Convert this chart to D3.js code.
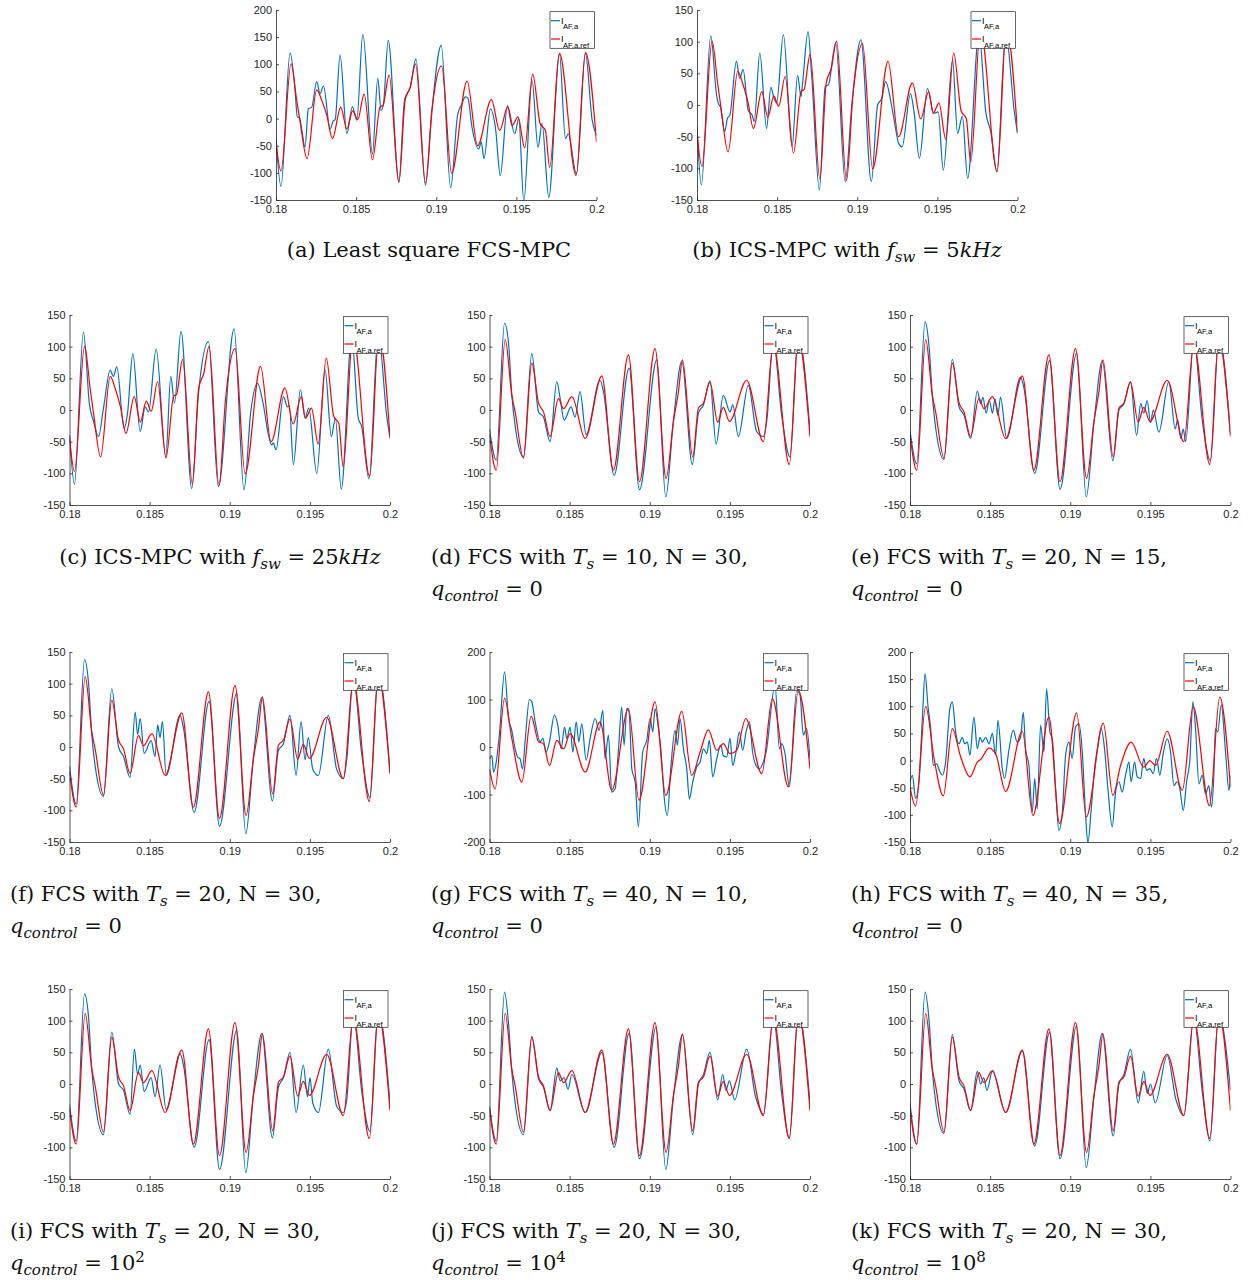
<!DOCTYPE html>
<html><head><meta charset="utf-8">
<script src="https://cdn.jsdelivr.net/npm/d3@7"></script>
<style>body{margin:0;background:#fff} svg{display:block} text{white-space:pre}</style>
</head><body>
<svg id="chart" width="1250" height="1280"></svg>
<script>
// ---------- tick labels ----------
const xTicks = [0.18, 0.185, 0.19, 0.195, 0.2];
const xTickLabels = ["0.18", "0.185", "0.19", "0.195", "0.2"];
const yTicks150 = [-150, -100, -50, 0, 50, 100, 150];
const yTicks200 = [-150, -100, -50, 0, 50, 100, 150, 200];
const yTicksG = [-200, -100, 0, 100, 200];
const legendSubs = ["AF,a", "AF,a,ref"];

// ---------- series: [time (s), current (A)] ----------
const refA = [[0.18,-43],[0.18031,-97],[0.18094,101],[0.18129,34],[0.1815,-5],[0.18194,-74],[0.18254,53],[0.18285,34],[0.18317,6],[0.18352,-37],[0.18404,21],[0.18442,-19],[0.18479,14],[0.1851,-2],[0.1855,45],[0.18602,-76],[0.1865,22],[0.18667,24],[0.18706,80],[0.18767,-117],[0.18806,34],[0.18838,58],[0.18871,101],[0.18933,-119],[0.18973,15],[0.19033,97],[0.19096,-101],[0.19192,69],[0.19258,-50],[0.19344,35],[0.19396,-22],[0.19446,21],[0.19473,-13],[0.1951,3],[0.19552,-54],[0.19602,82],[0.19648,-9],[0.19681,-22],[0.19708,-90],[0.19769,120],[0.19873,-105],[0.19931,122],[0.2,-43]];

const blueA = [[0.18,-35],[0.18031,-125],[0.18088,121],[0.18119,52],[0.18133,3],[0.18146,2],[0.1816,-19],[0.18181,-53],[0.18202,18],[0.18223,21],[0.18254,68],[0.18275,46],[0.18296,60],[0.18338,-19],[0.18358,-4],[0.18369,-2],[0.184,117],[0.18442,-28],[0.18477,22],[0.18504,-3],[0.18542,155],[0.18602,-65],[0.18635,74],[0.18656,15],[0.18671,27],[0.187,144],[0.18767,-117],[0.18802,34],[0.18838,58],[0.18873,110],[0.18933,-123],[0.18973,15],[0.19031,135],[0.1909,-127],[0.19133,6],[0.1916,27],[0.19181,40],[0.19198,37],[0.19223,-16],[0.19265,-56],[0.19281,-43],[0.19298,-74],[0.19338,18],[0.19369,-16],[0.194,-105],[0.19444,24],[0.1949,-28],[0.19515,0],[0.19546,-152],[0.19598,70],[0.19635,-53],[0.1966,-9],[0.19702,-145],[0.19769,119],[0.19806,-37],[0.19823,-28],[0.19875,-102],[0.19931,120],[0.19973,-3],[0.2,-31]];

const blueB = [[0.18,-34],[0.18027,-126],[0.18086,109],[0.18121,18],[0.18132,3],[0.18146,-3],[0.18173,-42],[0.1819,-21],[0.18205,-16],[0.18246,69],[0.18267,42],[0.18288,56],[0.18319,-8],[0.18344,-16],[0.18357,-26],[0.18392,82],[0.18434,-37],[0.18461,28],[0.18478,13],[0.18497,3],[0.18539,111],[0.18593,-66],[0.18628,47],[0.18649,13],[0.18658,32],[0.18693,116],[0.18716,45],[0.18764,-134],[0.188,29],[0.1882,32],[0.18866,98],[0.18925,-121],[0.18967,3],[0.19023,103],[0.19088,-121],[0.19127,0],[0.19154,11],[0.19177,37],[0.19217,-5],[0.19237,-34],[0.19259,-61],[0.1928,-66],[0.19332,18],[0.19353,-8],[0.19388,-84],[0.19438,26],[0.19478,-13],[0.19505,-11],[0.19537,-103],[0.19595,71],[0.19626,-45],[0.19656,-18],[0.19689,-116],[0.1976,113],[0.19802,-11],[0.19833,-42],[0.19871,-105],[0.19927,113],[0.19979,-8],[0.2,-45]];

const blueC = [[0.18,-39],[0.18031,-117],[0.18087,123],[0.18125,8],[0.1815,-18],[0.18181,-42],[0.18212,3],[0.18254,63],[0.18274,53],[0.18295,68],[0.18341,-29],[0.18362,-5],[0.18395,89],[0.18441,-34],[0.18472,5],[0.18493,-3],[0.18541,96],[0.18601,-74],[0.18632,53],[0.18655,11],[0.18696,124],[0.18763,-124],[0.18805,26],[0.18867,108],[0.18929,-121],[0.19027,128],[0.19089,-126],[0.19131,-3],[0.19173,42],[0.1921,8],[0.19241,-39],[0.19262,-55],[0.19272,-52],[0.19289,-63],[0.19335,21],[0.1936,5],[0.19372,7],[0.19397,-86],[0.19441,32],[0.1947,-13],[0.19493,3],[0.19543,-100],[0.19595,63],[0.19634,-42],[0.19659,-13],[0.19696,-125],[0.19761,116],[0.19802,-13],[0.19823,-26],[0.19869,-109],[0.19927,121],[0.19979,-8],[0.2,-45]];

const refD = [[0.18,-39],[0.18042,-95],[0.18098,111],[0.18139,24],[0.1816,-3],[0.18212,-76],[0.18264,74],[0.18306,11],[0.18337,-3],[0.18378,-42],[0.1843,18],[0.18462,2],[0.18514,21],[0.18597,-45],[0.18701,54],[0.18773,-95],[0.18867,87],[0.18936,-113],[0.19033,97],[0.19102,-108],[0.19148,-18],[0.19179,29],[0.19204,79],[0.19268,-74],[0.19304,3],[0.19335,11],[0.19376,44],[0.19424,-19],[0.19459,4],[0.19497,-18],[0.19605,47],[0.19709,-50],[0.19771,105],[0.19871,-86],[0.19927,113],[0.2,-42]];

const blueD = [[0.18,-30],[0.18042,-79],[0.18094,137],[0.18119,105],[0.18139,24],[0.1816,-25],[0.18212,-74],[0.18264,89],[0.18306,-3],[0.18337,-11],[0.18378,-50],[0.1842,45],[0.18441,18],[0.18466,-16],[0.18509,5],[0.18534,-11],[0.18565,29],[0.18603,-39],[0.1869,47],[0.18711,29],[0.18778,-103],[0.18871,66],[0.18936,-126],[0.19044,79],[0.191,-137],[0.19148,-16],[0.192,77],[0.19266,-86],[0.19304,-5],[0.19335,8],[0.19376,46],[0.19414,-54],[0.19459,23],[0.19501,-3],[0.19518,8],[0.19553,-42],[0.19615,39],[0.19667,-34],[0.19709,-42],[0.1973,-18],[0.19771,108],[0.19823,-8],[0.19875,-74],[0.19927,118],[0.2,-32]];

const blueE = [[0.18,-32],[0.18042,-85],[0.18094,139],[0.18119,100],[0.18139,24],[0.1816,-28],[0.18212,-78],[0.18264,80],[0.18306,5],[0.18337,-8],[0.18378,-45],[0.1842,30],[0.18441,10],[0.18455,20],[0.18475,-5],[0.18495,15],[0.18515,-5],[0.1853,18],[0.18548,-8],[0.18565,20],[0.18603,-45],[0.1869,52],[0.18711,35],[0.18778,-100],[0.18871,78],[0.18936,-125],[0.1904,90],[0.191,-137],[0.19148,-20],[0.192,78],[0.19266,-80],[0.19304,0],[0.19335,10],[0.19376,45],[0.19414,-40],[0.1944,10],[0.19459,-5],[0.1948,15],[0.19501,-20],[0.19518,0],[0.19553,-35],[0.19615,45],[0.19655,-30],[0.1967,-15],[0.1969,-45],[0.19705,-30],[0.1972,-50],[0.19771,110],[0.19823,-15],[0.19875,-80],[0.19927,115],[0.2,-38]];

const blueF = [[0.18,-30],[0.18042,-90],[0.18094,138],[0.18119,100],[0.18139,20],[0.1816,-30],[0.18212,-78],[0.18264,92],[0.18306,0],[0.18337,-15],[0.18378,-48],[0.1841,55],[0.18425,20],[0.18441,45],[0.18466,-10],[0.18509,10],[0.18534,-15],[0.1855,35],[0.18565,15],[0.1858,40],[0.18603,-45],[0.1869,50],[0.18711,30],[0.18778,-103],[0.18871,72],[0.18936,-125],[0.19044,85],[0.191,-137],[0.19148,-16],[0.192,78],[0.19266,-85],[0.19304,-5],[0.19335,5],[0.19376,50],[0.19414,-45],[0.19445,40],[0.1947,-20],[0.1949,15],[0.19518,-35],[0.19553,-45],[0.19615,50],[0.19667,-35],[0.19709,-50],[0.1973,-20],[0.19771,110],[0.19823,-10],[0.19875,-80],[0.19927,118],[0.2,-40]];

const blueI = [[0.18,-32],[0.18042,-90],[0.18094,142],[0.18119,105],[0.18139,22],[0.1816,-30],[0.18212,-80],[0.18264,82],[0.18306,0],[0.18337,-10],[0.18378,-48],[0.18405,55],[0.18425,15],[0.18441,30],[0.18466,-12],[0.18509,10],[0.18534,-20],[0.18565,30],[0.18603,-40],[0.1869,48],[0.18711,30],[0.18778,-100],[0.18871,70],[0.18936,-135],[0.19044,85],[0.191,-140],[0.19148,-15],[0.192,80],[0.19266,-85],[0.19304,-5],[0.19335,10],[0.19376,50],[0.19414,-45],[0.19459,30],[0.19485,-20],[0.19501,10],[0.19518,-30],[0.19553,-45],[0.19615,55],[0.19667,-35],[0.19709,-45],[0.1973,-25],[0.19771,110],[0.19823,-10],[0.19875,-75],[0.19927,115],[0.2,-30]];

const blueJ = [[0.18,-35],[0.18042,-90],[0.18094,145],[0.18119,95],[0.18139,20],[0.1816,-30],[0.18212,-80],[0.18264,75],[0.18306,8],[0.18337,-5],[0.18378,-42],[0.1842,25],[0.18441,5],[0.18466,10],[0.1849,-8],[0.18514,15],[0.18597,-45],[0.18701,50],[0.18778,-100],[0.18871,80],[0.18936,-118],[0.1904,90],[0.191,-135],[0.19148,-20],[0.19204,78],[0.19268,-80],[0.19304,0],[0.19335,15],[0.19376,50],[0.19424,-25],[0.19455,15],[0.19475,-10],[0.19497,5],[0.1953,-25],[0.19605,55],[0.1966,-20],[0.1968,-35],[0.19709,-48],[0.19771,105],[0.19823,-15],[0.19871,-85],[0.19927,112],[0.2,-30]];

const blueK = [[0.18,-30],[0.18042,-95],[0.18094,145],[0.18119,100],[0.18139,22],[0.1816,-28],[0.18212,-78],[0.18264,78],[0.18306,5],[0.18337,-8],[0.18378,-42],[0.1842,20],[0.18441,0],[0.1846,10],[0.1848,-10],[0.18514,20],[0.18597,-45],[0.18701,52],[0.18778,-98],[0.18871,82],[0.18936,-118],[0.1904,92],[0.191,-132],[0.19148,-20],[0.192,80],[0.19268,-82],[0.19304,0],[0.19335,15],[0.19376,55],[0.19424,-30],[0.19459,20],[0.1948,-15],[0.19501,0],[0.1953,-30],[0.19605,45],[0.1966,-25],[0.19709,-50],[0.19771,105],[0.19823,-10],[0.19871,-90],[0.19927,110],[0.2,-10]];

const refG = [[0.18,-46],[0.18035,-88],[0.18094,103],[0.18139,18],[0.18202,-74],[0.1826,65],[0.18306,11],[0.18337,7],[0.18374,-39],[0.1842,14],[0.18462,-4],[0.18503,28],[0.18597,-53],[0.1869,53],[0.18763,-91],[0.18867,81],[0.18933,-112],[0.19033,95],[0.191,-102],[0.192,75],[0.19262,-60],[0.19314,-11],[0.19366,36],[0.19418,-7],[0.19459,7],[0.19501,-14],[0.19543,-7],[0.19599,60],[0.19699,-56],[0.19765,102],[0.19865,-84],[0.19927,119],[0.2,-46]];

const blueG = [[0.18,-25],[0.18015,-18],[0.18025,-53],[0.18042,-32],[0.18062,28],[0.18094,158],[0.18119,60],[0.18139,35],[0.1816,-4],[0.18175,-21],[0.18191,-25],[0.18206,-46],[0.18222,11],[0.18249,100],[0.18264,95],[0.18285,53],[0.18316,11],[0.18333,18],[0.18353,-11],[0.18374,11],[0.18405,67],[0.18426,46],[0.18447,-4],[0.18468,42],[0.18482,18],[0.18503,42],[0.1852,-11],[0.18541,53],[0.18557,11],[0.18576,49],[0.18603,-28],[0.18628,18],[0.18659,60],[0.18684,35],[0.18707,77],[0.18721,-25],[0.18742,25],[0.18763,-95],[0.18784,-88],[0.18805,-4],[0.18825,84],[0.1884,4],[0.18857,81],[0.18871,74],[0.18888,-46],[0.18909,-74],[0.18929,-168],[0.18956,-11],[0.18981,14],[0.19002,60],[0.19019,32],[0.19033,81],[0.19054,39],[0.19071,-11],[0.19089,-102],[0.1911,-144],[0.19131,-46],[0.19158,35],[0.19173,4],[0.19189,60],[0.1921,-4],[0.19231,-46],[0.19247,-109],[0.19268,-74],[0.19293,-42],[0.19314,-32],[0.19335,-4],[0.19356,-14],[0.19372,14],[0.19393,-63],[0.19418,-25],[0.19443,4],[0.19459,-18],[0.1948,-21],[0.19501,18],[0.19518,-39],[0.19538,-11],[0.19559,32],[0.1958,-7],[0.19601,32],[0.19622,53],[0.19642,-11],[0.19663,-39],[0.19684,-46],[0.19705,-35],[0.19726,-11],[0.19782,130],[0.19809,-4],[0.19823,7],[0.19844,-14],[0.19871,-84],[0.19917,119],[0.19938,109],[0.19958,25],[0.19979,39],[0.2,-25]];

const refH = [[0.18,-49],[0.18035,-84],[0.18098,100],[0.1815,4],[0.18208,-65],[0.18264,59],[0.18316,7],[0.18374,-30],[0.1842,-3],[0.18441,2],[0.18493,23],[0.18534,13],[0.18597,-57],[0.18701,54],[0.18767,-101],[0.18867,80],[0.18933,-116],[0.1904,88],[0.191,-104],[0.19206,69],[0.19266,-64],[0.19314,-9],[0.1938,34],[0.19459,-12],[0.19497,0],[0.19532,-9],[0.19605,54],[0.19699,-55],[0.19767,99],[0.19869,-83],[0.19933,117],[0.2,-49]];

const blueH = [[0.18,-39],[0.18015,-27],[0.18035,-70],[0.18056,-39],[0.18077,77],[0.18094,160],[0.18112,101],[0.18129,59],[0.18146,-9],[0.18166,-6],[0.18187,-21],[0.18202,-27],[0.18222,-3],[0.18249,96],[0.18264,108],[0.18285,53],[0.18306,31],[0.18326,43],[0.18341,31],[0.18358,34],[0.18374,10],[0.18399,80],[0.1842,22],[0.18437,43],[0.18451,34],[0.18472,43],[0.18493,31],[0.18514,50],[0.18534,10],[0.18549,74],[0.18576,-15],[0.1859,-33],[0.18617,19],[0.18644,56],[0.18669,34],[0.1869,43],[0.18707,89],[0.18721,22],[0.18742,-9],[0.18763,-95],[0.18778,-33],[0.18794,-89],[0.18815,65],[0.18836,16],[0.18852,132],[0.18873,53],[0.18888,40],[0.18909,-52],[0.18929,-129],[0.1895,-98],[0.18971,10],[0.18992,34],[0.19012,4],[0.19033,62],[0.19054,68],[0.19075,16],[0.19096,-101],[0.1911,-152],[0.19131,-89],[0.19152,-15],[0.19173,28],[0.19193,59],[0.19214,22],[0.19235,-52],[0.19262,-122],[0.19283,-58],[0.19304,-39],[0.19324,-58],[0.19345,-27],[0.19366,-3],[0.1938,-39],[0.19401,-3],[0.19418,-30],[0.19439,-33],[0.19459,4],[0.19476,-18],[0.19497,-15],[0.19518,-24],[0.19538,4],[0.19559,-27],[0.1958,13],[0.19605,40],[0.19626,16],[0.19647,-46],[0.19667,-39],[0.19684,-52],[0.19705,-92],[0.19726,-39],[0.19747,4],[0.19765,108],[0.19782,59],[0.19803,-43],[0.19823,-27],[0.19844,-61],[0.19865,-46],[0.19881,-86],[0.19896,-27],[0.19906,59],[0.19921,53],[0.19942,103],[0.19969,16],[0.1999,-55],[0.2,-27]];

// ---------- captions (segments: t text, it italic, sub subscript, sup superscript) ----------
const qZero = [{t:"q",it:1},{t:"control",it:1,sub:1},{t:" = 0"}];
const capA = [[{t:"(a) Least square FCS-MPC"}]];
const capB = [[{t:"(b) ICS-MPC with "},{t:"f",it:1},{t:"sw",it:1,sub:1},{t:" = 5"},{t:"kHz",it:1}]];
const capC = [[{t:"(c) ICS-MPC with "},{t:"f",it:1},{t:"sw",it:1,sub:1},{t:" = 25"},{t:"kHz",it:1}]];
const capD = [[{t:"(d) FCS with "},{t:"T",it:1},{t:"s",it:1,sub:1},{t:" = 10, N = 30,"}], qZero];
const capE = [[{t:"(e) FCS with "},{t:"T",it:1},{t:"s",it:1,sub:1},{t:" = 20, N = 15,"}], qZero];
const capF = [[{t:"(f) FCS with "},{t:"T",it:1},{t:"s",it:1,sub:1},{t:" = 20, N = 30,"}], qZero];
const capG = [[{t:"(g) FCS with "},{t:"T",it:1},{t:"s",it:1,sub:1},{t:" = 40, N = 10,"}], qZero];
const capH = [[{t:"(h) FCS with "},{t:"T",it:1},{t:"s",it:1,sub:1},{t:" = 40, N = 35,"}], qZero];
const capI = [[{t:"(i) FCS with "},{t:"T",it:1},{t:"s",it:1,sub:1},{t:" = 20, N = 30,"}], [{t:"q",it:1},{t:"control",it:1,sub:1},{t:" = 10"},{t:"2",sup:1}]];
const capJ = [[{t:"(j) FCS with "},{t:"T",it:1},{t:"s",it:1,sub:1},{t:" = 20, N = 30,"}], [{t:"q",it:1},{t:"control",it:1,sub:1},{t:" = 10"},{t:"4",sup:1}]];
const capK = [[{t:"(k) FCS with "},{t:"T",it:1},{t:"s",it:1,sub:1},{t:" = 20, N = 30,"}], [{t:"q",it:1},{t:"control",it:1,sub:1},{t:" = 10"},{t:"8",sup:1}]];

// ---------- layout ----------
const PW = 320.5, PH = 190;
const panels = [
  {x:276, y:10, dom:[-150,200], ticks:yTicks200, ref:refA, act:blueA, cap:capA, cx:429, cy:257, anchor:"middle"},
  {x:697, y:10, dom:[-150,150], ticks:yTicks150, ref:refA, act:blueB, cap:capB, cx:847, cy:257, anchor:"middle"},
  {x:69.5, y:315, dom:[-150,150], ticks:yTicks150, ref:refA, act:blueC, cap:capC, cx:220, cy:564, anchor:"middle"},
  {x:489.5, y:315, dom:[-150,150], ticks:yTicks150, ref:refD, act:blueD, cap:capD, cx:431, cy:564, anchor:"start"},
  {x:910, y:315, dom:[-150,150], ticks:yTicks150, ref:refD, act:blueE, cap:capE, cx:851, cy:564, anchor:"start"},
  {x:69.5, y:652, dom:[-150,150], ticks:yTicks150, ref:refD, act:blueF, cap:capF, cx:10, cy:901, anchor:"start"},
  {x:489.5, y:652, dom:[-200,200], ticks:yTicksG, ref:refG, act:blueG, cap:capG, cx:431, cy:901, anchor:"start"},
  {x:910, y:652, dom:[-150,200], ticks:yTicks200, ref:refH, act:blueH, cap:capH, cx:851, cy:901, anchor:"start"},
  {x:69.5, y:989, dom:[-150,150], ticks:yTicks150, ref:refD, act:blueI, cap:capI, cx:10, cy:1238, anchor:"start"},
  {x:489.5, y:989, dom:[-150,150], ticks:yTicks150, ref:refD, act:blueJ, cap:capJ, cx:431, cy:1238, anchor:"start"},
  {x:910, y:989, dom:[-150,150], ticks:yTicks150, ref:refD, act:blueK, cap:capK, cx:851, cy:1238, anchor:"start"}
];

const svg = d3.select("#chart");
const AX = "#262626";

panels.forEach((p, i) => {
  const g = svg.append("g").attr("transform", `translate(${p.x},${p.y})`);
  const x = d3.scaleLinear().domain([0.18, 0.2]).range([0, PW]);
  const y = d3.scaleLinear().domain(p.dom).range([PH, 0]);
  const clipId = "clip" + i;
  g.append("clipPath").attr("id", clipId).append("rect").attr("x", 0).attr("y", 0).attr("width", PW).attr("height", PH);

  const line = d3.line().x(d => x(d[0])).y(d => y(d[1])).curve(d3.curveMonotoneX);
  const lines = g.append("g").attr("clip-path", `url(#${clipId})`);
  lines.append("path").datum(p.act).attr("d", line).attr("fill", "none").attr("stroke", "#0072BD").attr("stroke-width", 1.2).attr("stroke-linejoin", "round");
  lines.append("path").datum(p.ref).attr("d", line).attr("fill", "none").attr("stroke", "#FF0000").attr("stroke-width", 1.2).attr("stroke-linejoin", "round");

  const xa = g.append("g").attr("transform", `translate(0,${PH})`)
    .call(d3.axisBottom(x).tickValues(xTicks).tickFormat((d, k) => xTickLabels[k]).tickSizeInner(-3).tickSizeOuter(0).tickPadding(5.5));
  const ya = g.append("g")
    .call(d3.axisLeft(y).tickValues(p.ticks).tickFormat(d => String(d)).tickSizeInner(-3).tickSizeOuter(0).tickPadding(4));
  [xa, ya].forEach(a => {
    a.selectAll("path, line").attr("stroke", AX).attr("stroke-width", 0.8);
    a.selectAll("text").attr("fill", AX).attr("font-family", "'Liberation Sans', Arial, sans-serif").attr("font-size", 11);
  });

  // legend
  const lg = g.append("g").attr("transform", `translate(${PW - 46.5},1.7)`);
  lg.append("rect").attr("width", 44.5).attr("height", 36.6).attr("fill", "#fff").attr("stroke", AX).attr("stroke-width", 0.7);
  [["#0072BD", 0], ["#FF0000", 1]].forEach(([c, k]) => {
    const yy = 9 + k * 18.3;
    lg.append("line").attr("x1", 1).attr("x2", 10).attr("y1", yy).attr("y2", yy).attr("stroke", c).attr("stroke-width", 1.2);
    lg.append("text").attr("x", 11).attr("y", yy + 3.3).attr("font-family", "'Liberation Sans', Arial, sans-serif").attr("font-size", 9).attr("fill", "#000").text("I");
    lg.append("text").attr("x", 13).attr("y", yy + 8.7).attr("font-family", "'Liberation Sans', Arial, sans-serif").attr("font-size", 7.6).attr("fill", "#000").text(legendSubs[k]);
  });

  // caption
  p.cap.forEach((segs, li) => {
    const t = svg.append("text").attr("x", p.cx).attr("y", p.cy + li * 32).attr("text-anchor", p.anchor)
      .attr("font-family", "'DejaVu Serif', serif").attr("font-size", 21).attr("fill", "#111");
    let shift = 0;
    segs.forEach(s => {
      const target = s.sub ? 5 : s.sup ? -8 : 0;
      t.append("tspan").attr("dy", target - shift).attr("font-size", (s.sub || s.sup) ? 15 : 21)
        .attr("font-style", s.it ? "italic" : "normal").text(s.t);
      shift = target;
    });
  });
});
</script>
</body></html>
